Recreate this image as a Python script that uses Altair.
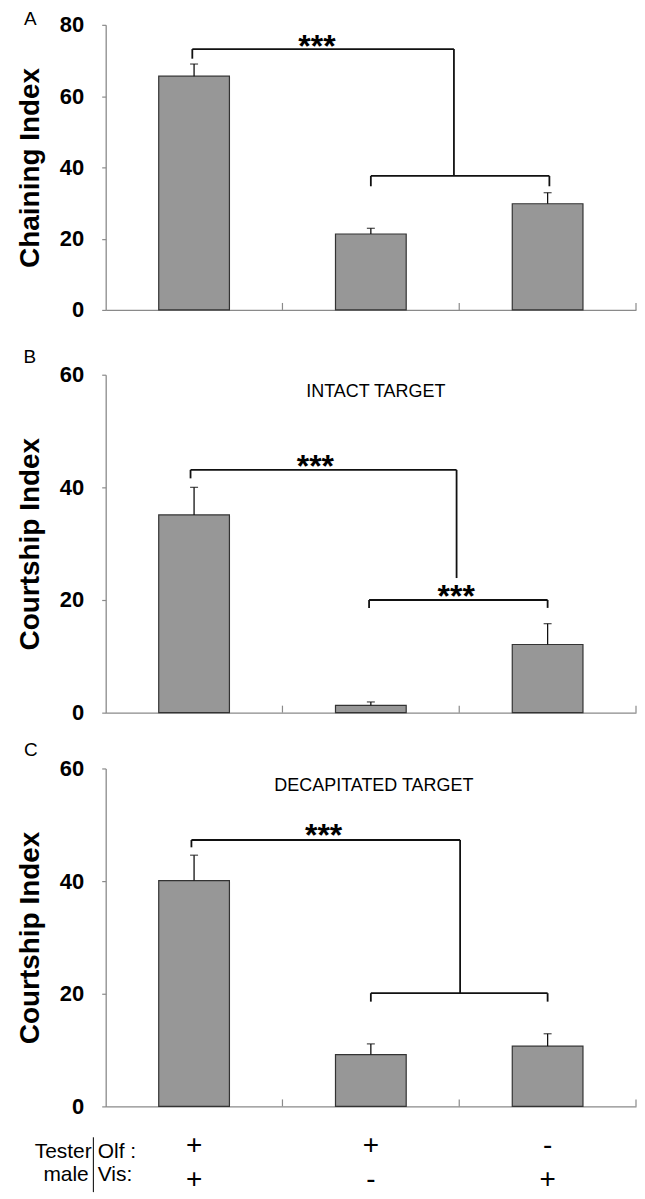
import altair as alt
import pandas as pd

# ---------------- data ----------------
groups = ["Olf+ Vis+", "Olf+ Vis-", "Olf- Vis+"]
olf_signs = ["+", "+", "-"]
vis_signs = ["+", "-", "+"]

chain_mean = [65.6, 21.3, 29.8]
chain_sem = [3.4, 1.6, 3.1]
intact_mean = [35.1, 1.3, 12.1]
intact_sem = [4.9, 0.6, 3.7]
decap_mean = [40.1, 9.2, 10.7]
decap_sem = [4.5, 1.9, 2.2]

# significance brackets: segments (x1, y1, x2, y2) in axis units (x: group slots 0..3)
brackets_a = [
    (0.49, 73.2, 1.97, 73.2), (0.49, 73.2, 0.49, 70.5), (1.97, 73.2, 1.97, 37.6),
    (1.50, 37.6, 2.51, 37.6), (1.50, 37.6, 1.50, 34.7), (2.51, 37.6, 2.51, 34.7),
]
stars_a = [(1.195, 76.0)]
brackets_b = [
    (0.48, 43.1, 1.985, 43.1), (0.48, 43.1, 0.48, 41.6), (1.985, 43.1, 1.985, 23.9),
    (1.49, 20.0, 2.50, 20.0), (1.49, 20.0, 1.49, 18.6), (2.50, 20.0, 2.50, 18.6),
]
stars_b = [(1.186, 45.0), (1.983, 21.9)]
brackets_c = [
    (0.485, 47.3, 2.005, 47.3), (0.485, 47.3, 0.485, 46.0), (2.005, 47.3, 2.005, 20.1),
    (1.50, 20.1, 2.50, 20.1), (1.50, 20.1, 1.50, 18.6), (2.50, 20.1, 2.50, 18.6),
]
stars_c = [(1.233, 49.4)]

FONT = "Liberation Sans"
W = 532


def panel(mean, sem, ymax, yticks, ytitle, height, yrange, brackets, stars,
          letter, letter_xy, subtitle=None, subtitle_xy=None, bottom_rows=False):
    pos = [i + 0.5 for i in range(len(groups))]
    df = pd.DataFrame({
        "group": groups,
        "pos": pos,
        "lo": [p - 0.2 for p in pos],
        "hi": [p + 0.2 for p in pos],
        "mean": mean,
        "top": [m + s for m, s in zip(mean, sem)],
        "base": [0] * len(groups),
        "olf": olf_signs,
        "vis": vis_signs,
    })
    xs = alt.Scale(domain=[0, 3], nice=False, zero=False)
    if yrange is None:
        ys = alt.Scale(domain=[0, ymax], nice=False)
    else:
        ys = alt.Scale(domain=[0, ymax], nice=False, range=yrange)

    bars = alt.Chart(df).mark_rect(
        fill="#979797", stroke="#333333", strokeWidth=1.2
    ).encode(
        x=alt.X("lo:Q", scale=xs,
                axis=alt.Axis(title=None, labels=False, ticks=False, grid=False,
                              domainColor="#8a8a8a", domainWidth=1.3)),
        x2="hi:Q",
        y=alt.Y("mean:Q", scale=ys,
                axis=alt.Axis(title=ytitle, values=yticks, grid=False,
                              domainColor="#8a8a8a", domainWidth=1.3,
                              tickColor="#8a8a8a", tickSize=4, tickWidth=1.2,
                              labelFont=FONT, labelFontWeight="bold",
                              labelFontSize=22, labelColor="#000000",
                              labelPadding=18,
                              titleFont=FONT, titleFontWeight="bold",
                              titleFontSize=28, titleColor="#000000",
                              titlePadding=15)),
        y2="base:Q",
    )
    err = alt.Chart(df).mark_rule(color="#111111", strokeWidth=1.3).encode(
        x="pos:Q", y="mean:Q", y2="top:Q")
    cap = alt.Chart(df).mark_tick(orient="horizontal", size=8, thickness=1.3,
                                  color="#111111").encode(x="pos:Q", y="top:Q")

    bdf = pd.DataFrame(brackets, columns=["x1", "y1", "x2", "y2"])
    br = alt.Chart(bdf).mark_rule(color="#111111", strokeWidth=1.8).encode(
        x="x1:Q", y="y1:Q", x2="x2:Q", y2="y2:Q")

    sdf = pd.DataFrame(stars, columns=["sx", "sy"])
    sdf["txt"] = "***"
    st = alt.Chart(sdf).mark_text(font=FONT, fontWeight="bold", fontSize=32,
                                  baseline="alphabetic", dy=18,
                                  color="#000000").encode(
        x="sx:Q", y="sy:Q", text="txt:N")

    tdf = pd.DataFrame({"t": [1, 2, 3]})
    xt = alt.Chart(tdf).mark_rule(color="#8a8a8a", strokeWidth=1.2).encode(
        x="t:Q", y=alt.value(height), y2=alt.value(height - 7))

    ldf = pd.DataFrame({"t": [letter]})
    let = alt.Chart(ldf).mark_text(font=FONT, fontSize=19, baseline="middle",
                                   align="center", color="#000000").encode(
        x=alt.value(letter_xy[0]), y=alt.value(letter_xy[1]), text="t:N")

    layers = [bars, err, cap, br, st, xt, let]

    if subtitle is not None:
        subdf = pd.DataFrame({"t": [subtitle], "sx": [subtitle_xy[0]], "sy": [subtitle_xy[1]]})
        layers.append(alt.Chart(subdf).mark_text(font=FONT, fontSize=18,
                                                 baseline="middle", align="center",
                                                 color="#000000").encode(
            x="sx:Q", y="sy:Q", text="t:N"))

    if bottom_rows:
        side = pd.DataFrame({
            "t": ["Tester", "male"],
            "px": [-14, -17],
            "py": [391, 414],
        })
        layers.append(alt.Chart(side).mark_text(font=FONT, fontSize=21, align="right",
                                                baseline="alphabetic",
                                                color="#000000").encode(
            x=alt.X("px:Q", scale=None), y=alt.Y("py:Q", scale=None), text="t:N"))
        side2 = pd.DataFrame({
            "t": ["Olf :", "Vis:"],
            "px": [-8, -8],
            "py": [391, 414],
        })
        layers.append(alt.Chart(side2).mark_text(font=FONT, fontSize=21, align="left",
                                                 baseline="alphabetic",
                                                 color="#000000").encode(
            x=alt.X("px:Q", scale=None), y=alt.Y("py:Q", scale=None), text="t:N"))
        sep = pd.DataFrame({"a": [0]})
        layers.append(alt.Chart(sep).mark_rule(color="#222222", strokeWidth=1.2).encode(
            x=alt.value(-12.3), y=alt.value(370), y2=alt.value(425)))
        layers.append(alt.Chart(df).mark_text(font=FONT, fontSize=28, baseline="alphabetic",
                                              align="center", color="#000000").encode(
            x="pos:Q", y=alt.value(387), text="olf:N"))
        layers.append(alt.Chart(df).mark_text(font=FONT, fontSize=28, baseline="alphabetic",
                                              align="center", color="#000000").encode(
            x="pos:Q", y=alt.value(421), text="vis:N"))

    return alt.layer(*layers).properties(width=W, height=height)


pa = panel(chain_mean, chain_sem, 80, [0, 20, 40, 60, 80], "Chaining Index", 286, None,
           brackets_a, stars_a, "A", (-75.5, -6))
pb = panel(intact_mean, intact_sem, 60, [0, 20, 40, 60], "Courtship Index", 348, [348, 9],
           brackets_b, stars_b, "B", (-76, -9), "INTACT TARGET", (1.528, 56.9))
pc = panel(decap_mean, decap_sem, 60, [0, 20, 40, 60], "Courtship Index", 339, None,
           brackets_c, stars_c, "C", (-75, -19), "DECAPITATED TARGET", (1.517, 56.8),
           bottom_rows=True)

chart = alt.vconcat(pa, pb, pc, spacing=56, bounds="flush").properties(
    padding={"left": 8, "top": 0, "right": 0, "bottom": 0},
    background="#ffffff",
).configure_view(stroke=None)

chart.save("out.html", embed_options={"renderer": "svg", "actions": False})
